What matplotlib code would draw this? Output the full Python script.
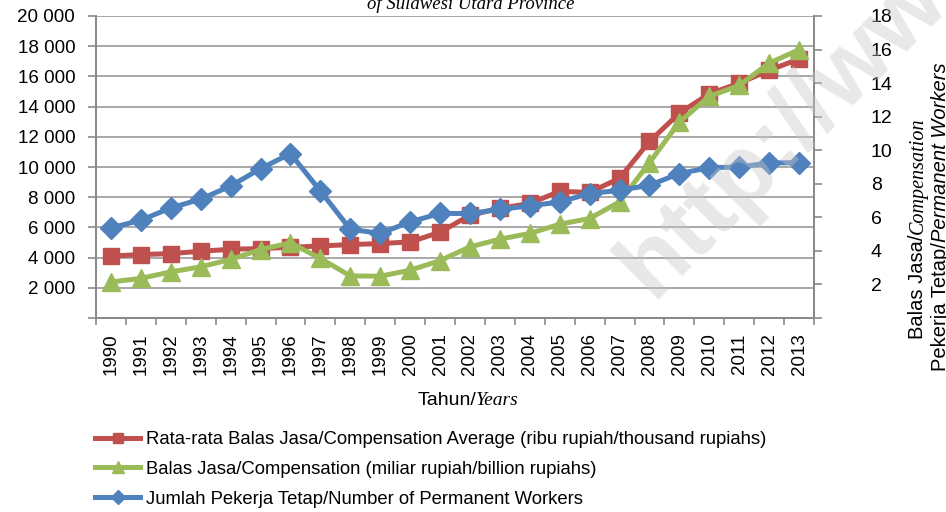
import matplotlib
matplotlib.use('Agg')
import matplotlib.pyplot as plt
import numpy as np

# ==============================================================================
# DATA
# ==============================================================================
years = list(range(1990, 2014))
year_labels = [str(y) for y in years]

# Rata-rata balas jasa (ribu rupiah) - left axis
avg_comp = [4106, 4200, 4265, 4419, 4551, 4600, 4680, 4771, 4864, 4930, 5037, 5680,
            6811, 7256, 7588, 8385, 8320, 9249, 11694, 13567, 14850, 15548, 16400, 17156]
# Balas jasa (miliar rupiah) - right axis
comp = [2.15, 2.36, 2.75, 3.05, 3.49, 4.08, 4.48, 3.55, 2.51, 2.49, 2.85, 3.42,
        4.24, 4.70, 5.04, 5.59, 5.93, 6.92, 9.26, 11.68, 13.21, 13.86, 15.19, 15.99]
# Jumlah pekerja tetap (ribu orang) - right axis
workers = [5.37, 5.83, 6.56, 7.08, 7.87, 8.90, 9.80, 7.57, 5.29, 5.04, 5.73, 6.23,
           6.23, 6.48, 6.68, 6.92, 7.42, 7.61, 7.91, 8.61, 8.96, 9.00, 9.24, 9.26]

left_ticks = list(range(0, 20001, 2000))
left_labels = [''] + ['{:,}'.format(v).replace(',', ' ') for v in left_ticks[1:]]
right_ticks = list(range(0, 19, 2))
right_labels = [''] + [str(v) for v in right_ticks[1:]]

series_labels = [
    'Rata-rata Balas Jasa/Compensation Average (ribu rupiah/thousand rupiahs)',
    'Balas Jasa/Compensation (miliar rupiah/billion rupiahs)',
    'Jumlah Pekerja Tetap/Number of Permanent Workers',
]

RED = '#C0504D'
GREEN = '#9BBB59'
BLUE = '#4F81BD'
GRAY = '#8a8a8a'

plt.rcParams['font.family'] = ['Liberation Sans', 'DejaVu Sans']
FS = 13.5
W, H = 946, 512

# ==============================================================================
# FIGURE
# ==============================================================================
fig = plt.figure(figsize=(W / 100, H / 100), dpi=100)
ax1 = fig.add_axes([96 / W, 1 - 318 / H, (814 - 96) / W, (318 - 16) / H])
ax2 = ax1.twinx()

x = np.arange(len(years))
l1, = ax1.plot(x, avg_comp, color=RED, lw=3.6, marker='s', ms=12, zorder=3)
l2, = ax2.plot(x, comp, color=GREEN, lw=3.6, marker='^', ms=13, zorder=3)
l3, = ax2.plot(x, workers, color=BLUE, lw=3.6, marker='D', ms=11, zorder=4)

ax1.set_xlim(-0.5, len(years) - 0.5)
ax1.set_ylim(0, 20000)
ax2.set_ylim(0, 18)

ax1.set_yticks(left_ticks)
ax1.set_yticklabels(left_labels, fontsize=FS)
ax2.set_yticks(right_ticks)
ax2.set_yticklabels(right_labels, fontsize=FS + 0.5)
ax1.yaxis.grid(True, color='#9a9a9a', lw=1.2)
ax1.set_axisbelow(True)

ax1.set_xticks(x)
ax1.set_xticklabels(year_labels, rotation=90, fontsize=FS)
ax1.set_xticks(np.arange(-0.5, len(years)), minor=True)
ax1.tick_params(axis='x', which='major', length=0, pad=11)
ax1.tick_params(axis='x', which='minor', length=5, color=GRAY, width=1.2)
ax1.tick_params(axis='y', length=6, color=GRAY, width=1.2, pad=9)
ax2.tick_params(axis='y', which='major', length=6, color=GRAY, width=1.2, pad=35)

for ax in (ax1, ax2):
    ax.spines['top'].set_visible(False)
    for s in ('left', 'right', 'bottom'):
        ax.spines[s].set_color(GRAY)
        ax.spines[s].set_linewidth(1.4)

# ==============================================================================
# TEXTS WITH MIXED FONTS
# ==============================================================================
renderer = fig.canvas.get_renderer()
serif_it = dict(family='Liberation Serif', style='italic')
sans = dict(family='Liberation Sans')
sans_it = dict(family='Liberation Sans', style='italic')


def pieces_horizontal(parts, cx, base_y, size):
    objs = []
    for txt, props in parts:
        t = fig.text(0, 0, txt, fontsize=size, ha='left', va='baseline', **props)
        objs.append(t)
    widths = [t.get_window_extent(renderer).width for t in objs]
    x0 = cx - sum(widths) / 2
    for t, w in zip(objs, widths):
        t.set_position((x0 / W, 1 - base_y / H))
        x0 += w


def pieces_vertical(parts, base_x, cy, size):
    objs = []
    for txt, props in parts:
        t = fig.text(0, 0, txt, fontsize=size, rotation=90, rotation_mode='anchor',
                     ha='left', va='baseline', **props)
        objs.append(t)
    heights = [t.get_window_extent(renderer).height for t in objs]
    y0 = cy + sum(heights) / 2   # bottom of text, pixels from top
    for t, h in zip(objs, heights):
        t.set_position((base_x / W, 1 - y0 / H))
        y0 -= h


pieces_horizontal([('Tahun/', sans), ('Years', serif_it)], 468, 405, 14)
pieces_vertical([('Balas Jasa/', sans), ('Compensation', serif_it)], 923, 228, 14.5)
pieces_vertical([('Pekerja Tetap/', sans), ('Permanent Workers', sans_it)], 946, 217, 14.5)

fig.text(471 / W, 1 - 9 / H, 'of Sulawesi Utara Province', fontsize=FS,
         ha='center', va='baseline', **serif_it)

# watermark
fig.text(652 / W, 1 - 300 / H, 'http://www.bps.go.id', fontsize=70, fontweight='bold',
         rotation=45, rotation_mode='anchor', ha='left', va='baseline',
         color='#c8c8c8', alpha=0.42, zorder=10)

# ==============================================================================
# LEGEND
# ==============================================================================
fig.legend([l1, l2, l3], series_labels, loc='upper left',
           bbox_to_anchor=(95 / W, 1 - 431 / H), frameon=False, fontsize=13.3,
           handlelength=2.45, handletextpad=0.3, labelspacing=0.7,
           borderaxespad=0, borderpad=0, markerscale=0.65)

fig.savefig('out.png', dpi=100)
